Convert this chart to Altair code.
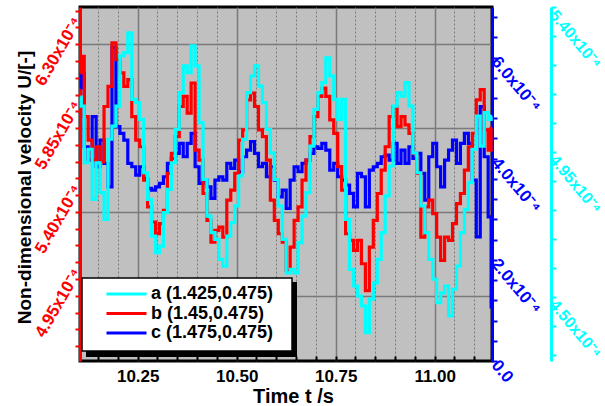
import altair as alt
import pandas as pd

# ---------------- data ----------------
time_s = [10.105, 10.11, 10.12, 10.13, 10.14, 10.15, 10.16, 10.17, 10.18, 10.19, 10.20,
          10.21, 10.22, 10.23, 10.24, 10.25, 10.26, 10.27, 10.28, 10.29, 10.30,
          10.31, 10.32, 10.33, 10.34, 10.35, 10.36, 10.37, 10.38, 10.39, 10.40,
          10.41, 10.42, 10.43, 10.44, 10.45, 10.46, 10.47, 10.48, 10.49, 10.50,
          10.51, 10.52, 10.53, 10.54, 10.55, 10.56, 10.57, 10.58, 10.59, 10.60,
          10.61, 10.62, 10.63, 10.64, 10.65, 10.66, 10.67, 10.68, 10.69, 10.70,
          10.71, 10.72, 10.73, 10.74, 10.75, 10.76, 10.77, 10.78, 10.79, 10.80,
          10.81, 10.82, 10.83, 10.84, 10.85, 10.86, 10.87, 10.88, 10.89, 10.90,
          10.91, 10.92, 10.93, 10.94, 10.95, 10.96, 10.97, 10.98, 10.99, 11.00,
          11.01, 11.02, 11.03, 11.04, 11.05, 11.06, 11.07, 11.08, 11.09, 11.10,
          11.11, 11.12, 11.13, 11.14, 11.145]

# series a (cyan, far right axis), units of 1e-4
u_a = [5.12,
       5.092, 4.916, 4.958, 4.802, 4.916, 4.823, 4.740, 4.989, 5.030, 5.092,
       5.248, 5.258, 5.320, 5.113, 5.103, 5.051, 4.885, 4.802, 4.688, 4.637,
       4.657, 4.761, 4.833, 4.916, 5.020, 5.134, 5.217, 5.196, 5.279, 5.217,
       5.041, 4.864, 4.750, 4.699, 4.678, 4.616, 4.595, 4.688, 4.730, 4.782,
       4.875, 4.989, 5.134, 5.186, 5.217, 5.154, 5.103, 5.020, 4.947, 4.864,
       4.782, 4.678, 4.574, 4.585, 4.574, 4.668, 4.750, 4.823, 4.968, 5.082,
       5.134, 5.165, 5.242, 5.186, 5.113, 5.051, 5.113, 4.740, 4.585, 4.533,
       4.502, 4.471, 4.388, 4.492, 4.543, 4.616, 4.699, 4.813, 4.906, 5.092,
       5.134, 5.123, 5.165, 5.092, 4.947, 4.885, 4.782, 4.699, 4.616, 4.554,
       4.481, 4.512, 4.533, 4.440, 4.523, 4.595, 4.699, 4.771, 4.854, 4.958,
       5.061, 4.968, 5.072, 5.051,
       5.06]

# series b (red, left axis), units of 1e-4
u_b = [6.146,
       6.235, 5.912, 5.786, 5.678, 5.750, 5.669, 5.966, 6.074, 6.307, 6.217,
       6.146, 6.074, 6.110, 5.912, 5.786, 5.750, 5.571, 5.427, 5.346, 5.283,
       5.337, 5.409, 5.607, 5.714, 5.804, 5.966, 6.020, 5.930, 6.092, 5.732,
       5.678, 5.499, 5.355, 5.238, 5.301, 5.319, 5.265, 5.463, 5.517, 5.607,
       5.786, 5.840, 6.002, 6.038, 5.966, 5.840, 5.804, 5.678, 5.463, 5.355,
       5.283, 5.238, 5.086, 5.211, 5.355, 5.427, 5.571, 5.678, 5.804, 5.912,
       6.020, 6.065, 6.020, 5.894, 5.822, 5.643, 5.517, 5.283, 5.247, 5.194,
       5.247, 5.122, 4.978, 5.211, 5.355, 5.499, 5.625, 5.750, 5.912, 5.966,
       5.858, 5.912, 5.867, 5.822, 5.714, 5.607, 5.265, 5.427, 5.463, 5.391,
       5.265, 5.140, 5.265, 5.247, 5.337, 5.445, 5.499, 5.625, 5.750, 5.822,
       6.002, 6.056, 5.840, 5.732,
       5.85]

# series c (blue, right axis), units of 1e-4
u_c = [5.40,
       5.689, 4.237, 3.973, 4.831, 3.841, 4.369, 3.907, 3.445, 6.200, 4.633,
       4.501, 4.369, 3.907, 3.841, 3.676, 3.841, 3.610, 3.412, 3.379, 3.445,
       3.511, 3.643, 3.907, 4.006, 4.105, 4.303, 4.039, 4.303, 4.501, 3.841,
       3.511, 3.577, 3.445, 3.214, 3.577, 3.643, 3.577, 3.907, 3.808, 3.973,
       3.742, 4.039, 4.171, 4.336, 4.105, 3.841, 3.907, 3.643, 3.841, 3.577,
       3.247, 3.379, 3.016, 3.577, 3.841, 3.742, 3.907, 3.973, 4.105, 4.237,
       4.204, 4.303, 4.171, 3.775, 3.907, 3.643, 3.577, 3.478, 3.313, 3.049,
       3.709, 3.643, 3.049, 3.775, 3.841, 3.907, 4.039, 4.072, 3.973, 4.303,
       3.907, 4.171, 3.907, 4.237, 4.006, 4.105, 3.709, 3.181, 4.039, 4.303,
       3.841, 3.445, 3.973, 4.171, 4.369, 3.907, 4.303, 4.501, 4.303, 3.577,
       2.455, 5.029, 4.039, 2.851,
       1.07]

series_names = ["a (1.425,0.475)", "b (1.45,0.475)", "c (1.475,0.475)"]
series_colors = ["#00FFFF", "#FF0000", "#0000FF"]

x_major = [10.25, 10.5, 10.75, 11.0]
x_ticks = [10.15, 10.2, 10.25, 10.3, 10.35, 10.4, 10.45, 10.5, 10.55, 10.6, 10.65,
           10.7, 10.75, 10.8, 10.85, 10.9, 10.95, 11.0, 11.05, 11.1]
red_major = [4.95, 5.4, 5.85, 6.3]
red_ticks = [4.68, 4.77, 4.86, 4.95, 5.04, 5.13, 5.22, 5.31, 5.4, 5.49, 5.58, 5.67,
             5.76, 5.85, 5.94, 6.03, 6.12, 6.21, 6.3, 6.39, 6.48]
blue_major = [0, 2, 4, 6]
blue_ticks = [0, 0.4, 0.8, 1.2, 1.6, 2, 2.4, 2.8, 3.2, 3.6, 4, 4.4, 4.8, 5.2, 5.6,
              6, 6.4, 6.8]
cyan_major = [4.5, 4.95, 5.4]
cyan_ticks = [4.32, 4.41, 4.5, 4.59, 4.68, 4.77, 4.86, 4.95, 5.04, 5.13, 5.22, 5.31, 5.4]

FONT = "Liberation Sans"


def is_major(vals):
    return "indexof([" + ",".join(repr(v) for v in vals) + "], datum.value) >= 0"


rows = []
for name, vals in zip(series_names, [u_a, u_b, u_c]):
    for t, v in zip(time_s, vals):
        rows.append({"t": t, "u": v, "series": name})
df = pd.DataFrame(rows)

color = alt.Color(
    "series:N",
    scale=alt.Scale(domain=series_names, range=series_colors),
    legend=alt.Legend(
        title=None, orient="none", legendX=37.5, legendY=278, padding=0,
        symbolType="M-4,0H4", symbolSize=100, symbolStrokeWidth=3,
        symbolFillColor="transparent",
        labelFont=FONT, labelFontSize=18, labelFontWeight="bold",
        labelColor="black", labelOffset=15.5, rowPadding=1.5,
    ),
)

x_enc = alt.X(
    "t:Q",
    scale=alt.Scale(domain=[10.1043, 11.1447], nice=False, zero=False),
    axis=alt.Axis(
        values=x_ticks,
        labelExpr=is_major(x_major) + " ? format(datum.value, '.2f') : ''",
        labelAngle=0, labelFont=FONT, labelFontSize=17, labelFontWeight="bold",
        labelColor="black", labelPadding=7, labelOverlap=False, labelFlush=False,
        tickSize=5, tickWidth=2, tickColor="black", offset=-5, domain=False,
        grid=True,
        gridColor="#7a7a7a",
        gridWidth={"condition": {"test": is_major(x_major), "value": 1.5}, "value": 1},
        gridDash={"condition": {"test": is_major(x_major), "value": []}, "value": [2, 2]},
        title="Time t /s", titleFont=FONT, titleFontSize=20, titleFontWeight="bold",
        titleColor="black", titlePadding=2, titleX=213,
    ),
)


def line_layer(name, ydomain, axis):
    return (
        alt.Chart(df)
        .transform_filter(alt.datum.series == name)
        .mark_line(strokeWidth=3.2, interpolate="step", strokeJoin="miter")
        .encode(
            x=x_enc,
            y=alt.Y("u:Q", scale=alt.Scale(domain=ydomain, nice=False, zero=False), axis=axis),
            color=color,
        )
    )


red_axis = alt.Axis(
    orient="left", values=red_ticks,
    labelExpr=is_major(red_major) + " ? format(datum.value, '.2f') + 'x10⁻⁴' : ''",
    labelAngle=300, labelAlign="right", labelBaseline="middle",
    labelPadding=-2, labelOffset=-26, labelColor="#FF0000",
    labelFont=FONT, labelFontSize=17, labelFontWeight="bold",
    labelOverlap=False, labelFlush=False, labelBound=False,
    tickColor="#FF0000", tickSize=5, tickWidth=2,
    domainColor="#FF0000", domainWidth=3,
    grid=True, gridColor="#7a7a7a", gridWidth=1.5,
    gridOpacity={"condition": {"test": is_major(red_major), "value": 1}, "value": 0},
    title="Non-dimensional velocity U/[-]", titleFont=FONT, titleFontSize=19,
    titleFontWeight="bold", titleColor="black", titleX=-56, titleY=180,
    titleBaseline="middle", titleAlign="center",
)

blue_axis = alt.Axis(
    orient="right", values=blue_ticks,
    labelExpr="datum.value == 0 ? '0.0' : (" + is_major(blue_major)
              + " ? format(datum.value, '.1f') + 'x10⁻⁴' : '')",
    labelAngle=50, labelAlign="left", labelBaseline="middle",
    labelPadding=-3, labelOffset=1, labelColor="#0000FF",
    labelFont=FONT, labelFontSize=17, labelFontWeight="bold",
    labelOverlap=False, labelFlush=False, labelBound=False,
    tickColor="#0000FF", tickSize=5, tickWidth=2,
    domainColor="#0000FF", domainWidth=3, grid=False, title="",
)

cyan_axis = alt.Axis(
    orient="right", offset=59, values=cyan_ticks,
    labelExpr=is_major(cyan_major) + " ? format(datum.value, '.2f') + 'x10⁻⁴' : ''",
    labelAngle=50, labelAlign="left", labelBaseline="middle",
    labelPadding=-4, labelOffset=5, labelColor="#00FFFF",
    labelFont=FONT, labelFontSize=16, labelFontWeight="bold",
    labelOverlap=False, labelFlush=False, labelBound=False,
    tickColor="#00FFFF", tickSize=5, tickWidth=2,
    domainColor="#00FFFF", domainWidth=3, grid=False, title="",
)

blue_line = line_layer(series_names[2], [0, 7], blue_axis)
red_line = line_layer(series_names[1], [4.6, 6.5], red_axis)
cyan_line = line_layer(series_names[0], [4.3, 5.4], cyan_axis)

box_df = pd.DataFrame({"k": [0]})
shadow = alt.Chart(box_df).mark_rect(color="black").encode(
    x=alt.value(6), x2=alt.value(217), y=alt.value(275), y2=alt.value(350)
)
box = alt.Chart(box_df).mark_rect(fill="white", stroke="black", strokeWidth=1.5).encode(
    x=alt.value(2), x2=alt.value(212), y=alt.value(271), y2=alt.value(344)
)

chart = (
    alt.layer(blue_line, red_line, cyan_line, shadow, box)
    .resolve_scale(y="independent")
    .properties(
        width=412, height=354,
        padding={"left": 80, "top": 7, "right": 113, "bottom": 45},
        autosize=alt.AutoSizeParams(type="none"),
        background="white",
    )
    .configure_view(fill="#c0c0c0", stroke="black", strokeWidth=3)
)

chart.save("out.html", embed_options={"renderer": "svg", "actions": False})
